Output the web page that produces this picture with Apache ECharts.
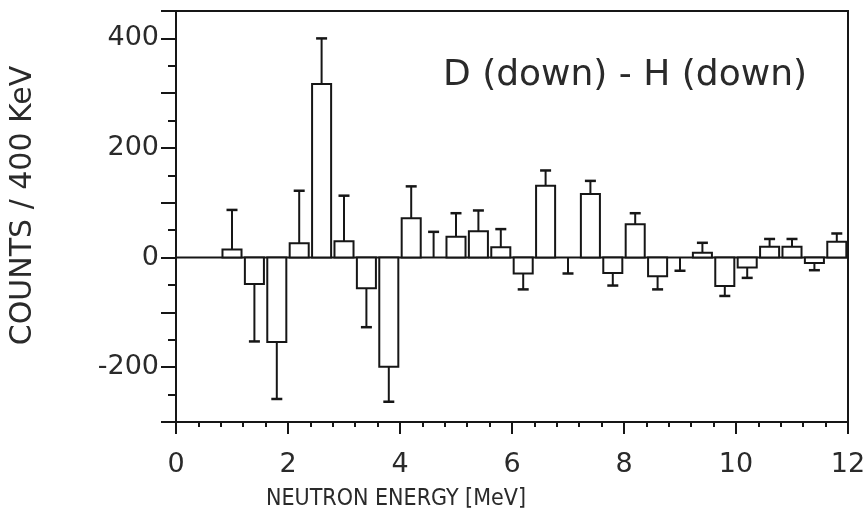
<!DOCTYPE html>
<html>
<head>
<meta charset="utf-8">
<script src="https://cdn.jsdelivr.net/npm/echarts@6/dist/echarts.min.js"></script>
<style>html,body{margin:0;padding:0;background:#fff}#c{width:868px;height:514px}</style>
</head>
<body>
<div id="c"></div>
<script>
// Bin centres (MeV), 400 keV bins
const energies = [1.0,1.4,1.8,2.2,2.6,3.0,3.4,3.8,4.2,4.6,5.0,5.4,5.8,6.2,6.6,7.0,7.4,7.8,8.2,8.6,9.0,9.4,9.8,10.2,10.6,11.0,11.4,11.8];
// Counts per bin
const counts = [15,-48,-154,26,317,30,-56,-199,72,0,38,48,19,-29,131,0,116,-28,61,-34,0,9,-52,-18,20,20,-10,29];
// End of the one-sided error bar for each bin
const errorTips = [87,-153,-258,122,400,113,-127,-263,130,47,81,86,52,-58,159,-29,140,-51,81,-58,-24,27,-70,-37,34,34,-23,44];
const xTicks = [0,2,4,6,8,10,12];
const yTickLabels = [-200,0,200,400];
const annotation = 'D (down) - H (down)';

const chart = echarts.init(document.getElementById('c'), null, {renderer:'canvas'});
const ink = '#161616';
const font = 'DejaVu Sans';
const data = energies.map((e,i)=>[e, counts[i], errorTips[i]]);

chart.setOption({
  animation:false,
  backgroundColor:'#fff',
  grid:{left:176,right:20,top:11,bottom:92,show:true,borderColor:ink,borderWidth:2,backgroundColor:'transparent',
    containLabel:false,outerBoundsMode:'none'},
  xAxis:{
    type:'value',min:0,max:12,interval:2,
    axisLine:{onZero:false,lineStyle:{color:ink,width:2}},
    axisTick:{inside:false,length:12,lineStyle:{color:ink,width:2}},
    minorTick:{show:true,splitNumber:5,length:5,lineStyle:{color:ink,width:2}},
    splitLine:{show:false},
    axisLabel:{color:'#2a2a2a',fontFamily:font,fontSize:27,margin:29,
      formatter:v=>xTicks.indexOf(v)>=0?String(v):''},
    name:'NEUTRON ENERGY [MeV]',nameLocation:'middle',nameGap:66,
    nameTextStyle:{color:'#2a2a2a',fontFamily:'DejaVu Sans Condensed, DejaVu Sans',fontSize:23,padding:[0,232,0,0]}
  },
  yAxis:{
    type:'value',min:-300,max:450,interval:100,
    axisLine:{onZero:false,lineStyle:{color:ink,width:2}},
    axisTick:{inside:false,length:15,lineStyle:{color:ink,width:2}},
    minorTick:{show:true,splitNumber:2,length:8,lineStyle:{color:ink,width:2}},
    splitLine:{show:false},
    axisLabel:{color:'#2a2a2a',fontFamily:font,fontSize:27,margin:17,
      formatter:v=>yTickLabels.indexOf(v)>=0?String(v):''},
    name:'COUNTS / 400 KeV',nameLocation:'middle',nameGap:138,
    nameTextStyle:{color:'#2a2a2a',fontFamily:font,fontSize:30,padding:[0,0,0,22]}
  },
  series:[
    {type:'line',data:[[0,0],[12,0]],symbol:'none',lineStyle:{color:ink,width:2},z:1,silent:true},
    {type:'custom',z:2,data:data,
      renderItem:function(params,api){
        const x=api.value(0), v=api.value(1), tip=api.value(2);
        const hw=0.17;
        const a=api.coord([x-hw,0]), b=api.coord([x+hw,v]);
        const c=api.coord([x,v]), t=api.coord([x,tip]);
        const ch=[];
        if(v!==0){
          ch.push({type:'rect',shape:{x:Math.min(a[0],b[0]),y:Math.min(a[1],b[1]),width:Math.abs(b[0]-a[0]),height:Math.abs(b[1]-a[1])},
            style:{fill:'#fff',stroke:ink,lineWidth:2}});
        }
        ch.push({type:'line',shape:{x1:c[0],y1:c[1],x2:t[0],y2:t[1]},style:{stroke:ink,lineWidth:2}});
        ch.push({type:'line',shape:{x1:t[0]-5.5,y1:t[1],x2:t[0]+5.5,y2:t[1]},style:{stroke:ink,lineWidth:2.5}});
        return {type:'group',children:ch};
      }
    }
  ],
  graphic:[
    {type:'text',left:443,top:58,style:{text:annotation,fill:'#2a2a2a',font:'36px "DejaVu Sans"'}}
  ]
});
</script>
</body>
</html>
